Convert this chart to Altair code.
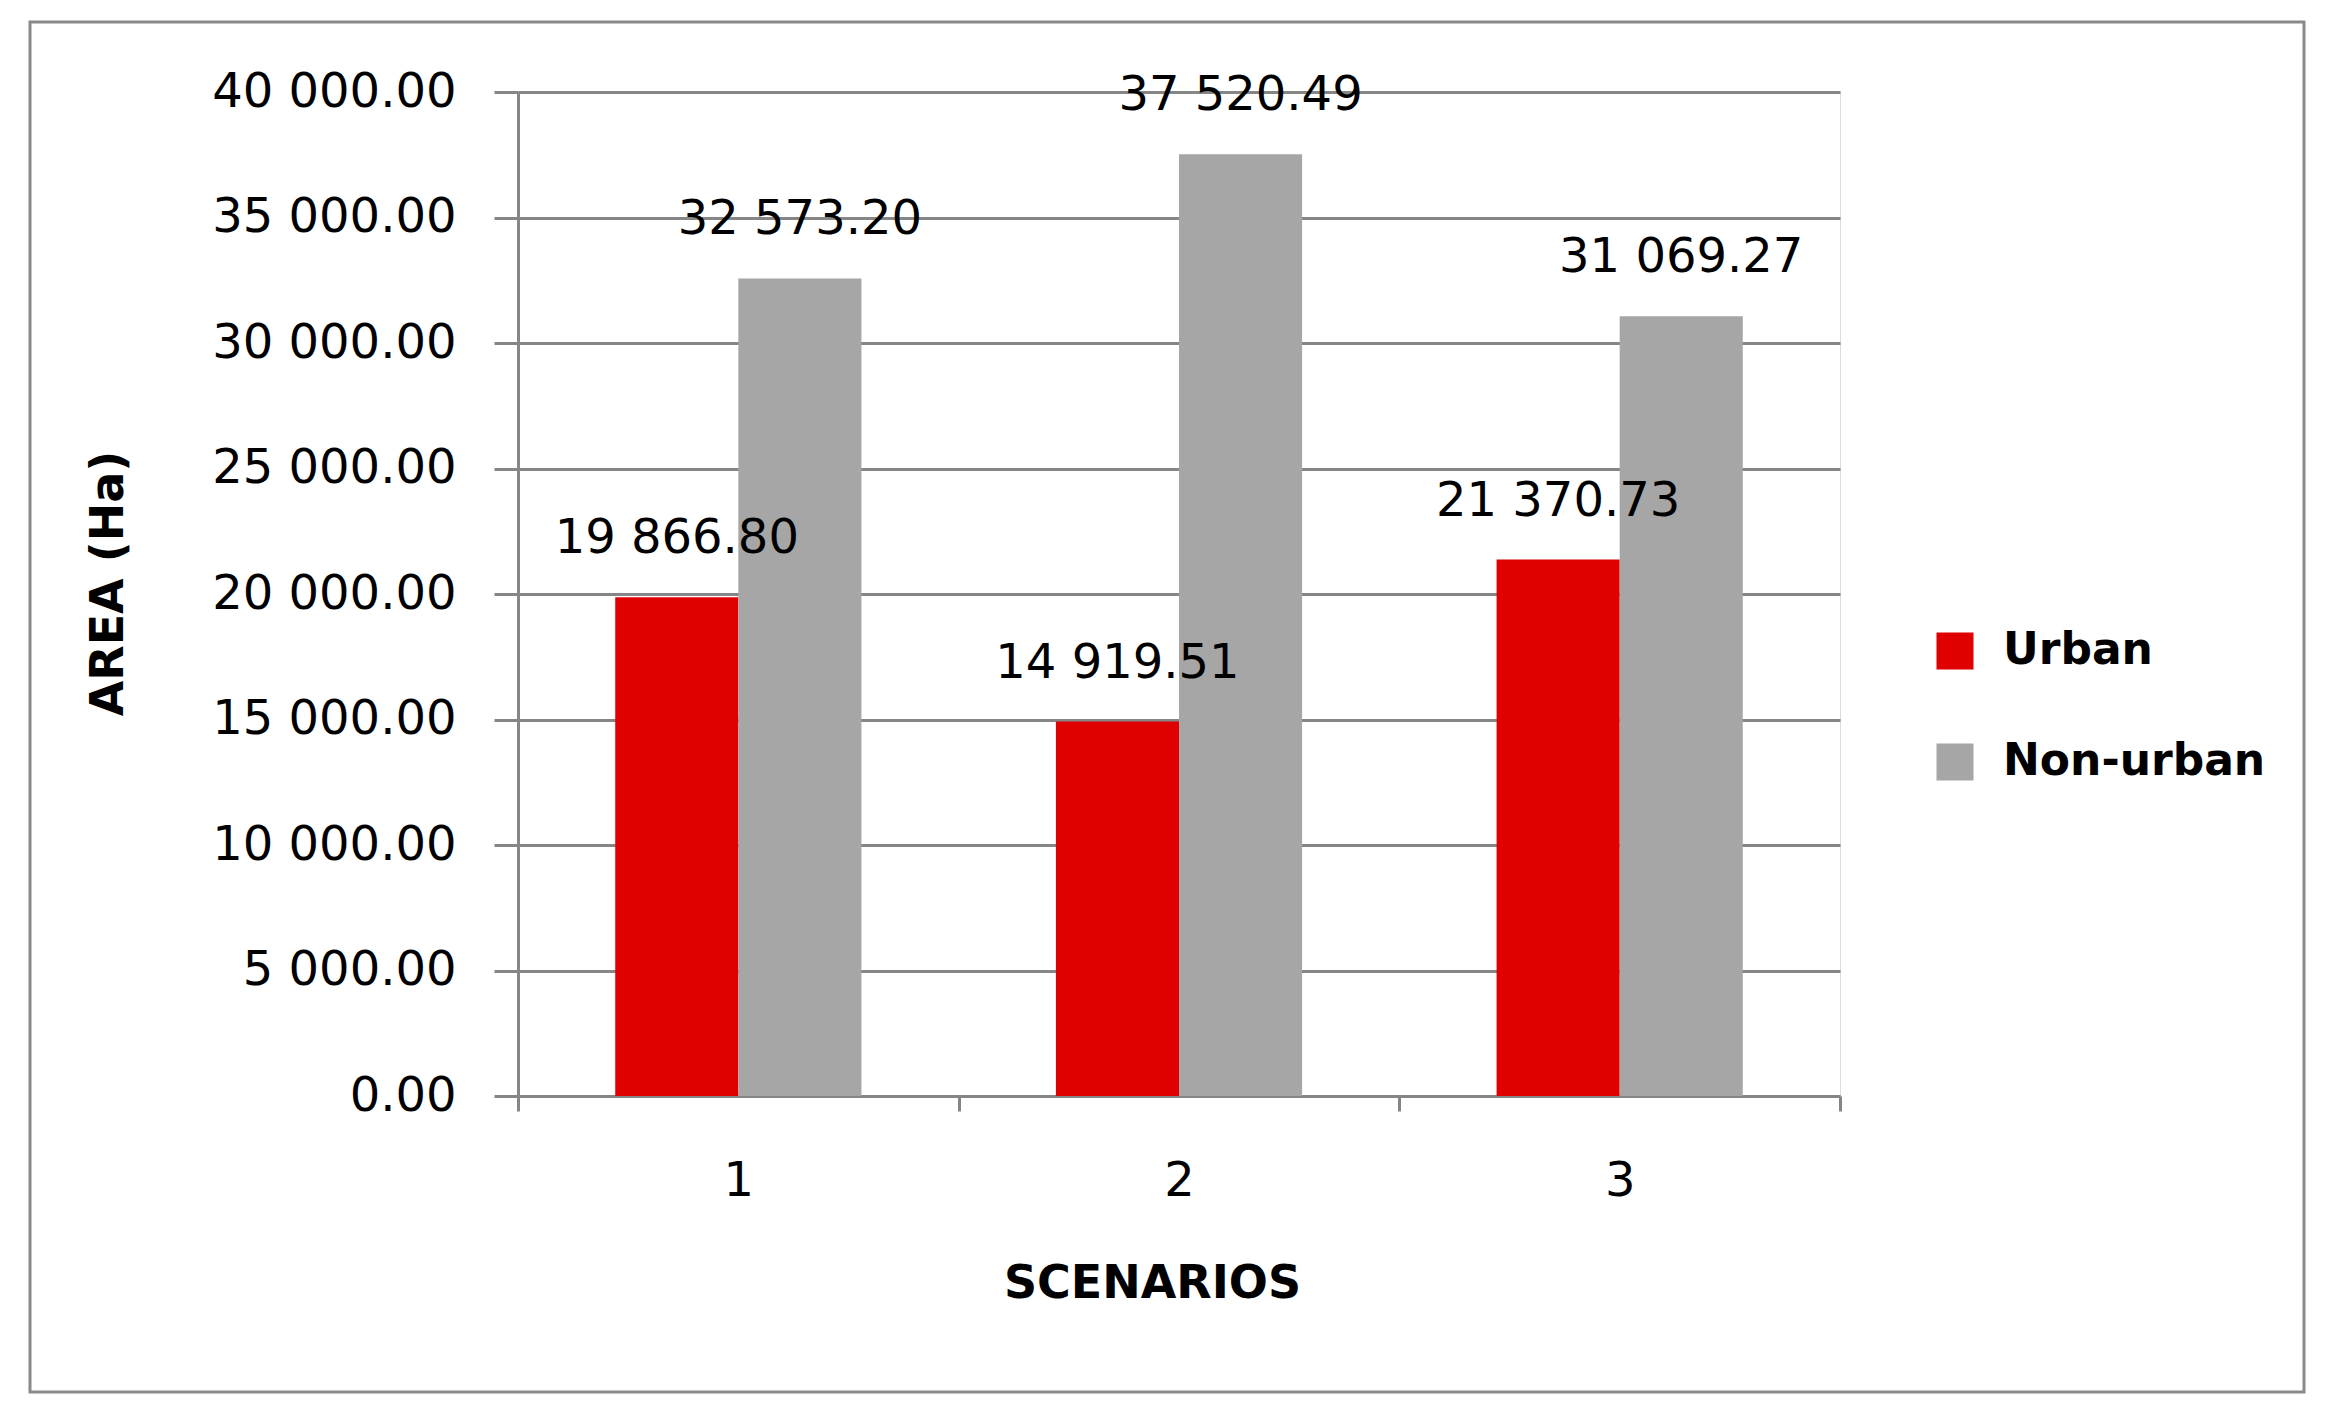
import altair as alt
import pandas as pd

scenarios = ["1", "2", "3"]
series = ["Urban", "Non-urban"]
urban = [19866.80, 14919.51, 21370.73]
non_urban = [32573.20, 37520.49, 31069.27]
colors = ["#E00000", "#A6A6A6"]
y_ticks = [0, 5000, 10000, 15000, 20000, 25000, 30000, 35000, 40000]

rows = []
for i, s in enumerate(scenarios):
    rows.append({"Scenario": s, "Type": series[0], "Area": urban[i]})
    rows.append({"Scenario": s, "Type": series[1], "Area": non_urban[i]})
df = pd.DataFrame(rows)

FONT = "DejaVu Sans"
GREY = "#868686"
fmt_axis = "replace(format(datum.value, ',.2f'), regexp(',', 'g'), ' ')"
fmt_label = "replace(format(datum.Area, ',.2f'), regexp(',', 'g'), ' ')"

base = alt.Chart(df).encode(
    x=alt.X(
        "Scenario:N",
        sort=scenarios,
        scale=alt.Scale(paddingInner=0, paddingOuter=0),
        axis=alt.Axis(
            title="SCENARIOS",
            labelAngle=0,
            labelFont=FONT,
            labelFontSize=48,
            labelColor="black",
            labelPadding=46,
            labelLimit=0,
            domainColor=GREY,
            domainWidth=3,
            tickColor=GREY,
            tickWidth=3,
            tickSize=15,
            tickBand="extent",
            grid=False,
            titleFont=FONT,
            titleFontSize=46,
            titleFontWeight="bold",
            titleColor="black",
            titleX=634,
            titleY=201,
            titleBaseline="alphabetic",
            titleAlign="center",
        ),
    ),
    xOffset=alt.XOffset(
        "Type:N", sort=series, scale=alt.Scale(paddingInner=0, paddingOuter=0.79)
    ),
)

bars = base.mark_bar().encode(
    y=alt.Y(
        "Area:Q",
        scale=alt.Scale(domain=[0, 40000], nice=False, zero=True),
        axis=alt.Axis(
            values=y_ticks,
            labelExpr=fmt_axis,
            labelFont=FONT,
            labelFontSize=48,
            labelColor="black",
            labelPadding=38,
            labelLimit=0,
            domainColor=GREY,
            domainWidth=3,
            tickColor=GREY,
            tickWidth=3,
            tickSize=24,
            grid=True,
            gridColor=GREY,
            gridWidth=3,
            title="AREA (Ha)",
            titleFont=FONT,
            titleFontSize=46,
            titleFontWeight="bold",
            titleColor="black",
            titleAngle=270,
            titleX=-396,
            titleY=491,
            titleBaseline="alphabetic",
            titleAlign="center",
        ),
    ),
    color=alt.Color(
        "Type:N",
        sort=series,
        scale=alt.Scale(domain=series, range=colors),
        legend=alt.Legend(
            orient="none",
            legendX=1415,
            legendY=537,
            title=None,
            symbolType="square",
            symbolSize=1369,
            symbolStrokeWidth=0,
            labelFont=FONT,
            labelFontSize=44,
            labelFontWeight="bold",
            labelColor="black",
            labelOffset=26,
            labelLimit=0,
            rowPadding=67,
            padding=0,
        ),
    ),
)

labels = base.mark_text(
    dy=-58, baseline="middle", align="center", fontSize=48, font=FONT, color="black"
).transform_calculate(label=fmt_label).encode(
    y=alt.Y("Area:Q"),
    text=alt.Text("label:N"),
)

frame = alt.Chart(pd.DataFrame({"f": [0]})).mark_rect(
    fillOpacity=0, stroke="#8A8A8A", strokeWidth=3
).encode(
    x=alt.value(-488), x2=alt.value(1786), y=alt.value(-70), y2=alt.value(1300)
)

chart = alt.layer(bars, labels, frame).properties(
    width=1322,
    height=1004,
    autosize=alt.AutoSizeParams(type="none"),
    padding={"left": 510, "top": 84, "right": 480, "bottom": 300},
).configure_view(stroke=None).configure(background="white")

chart.save("out.html", embed_options={"renderer": "svg", "actions": False})
